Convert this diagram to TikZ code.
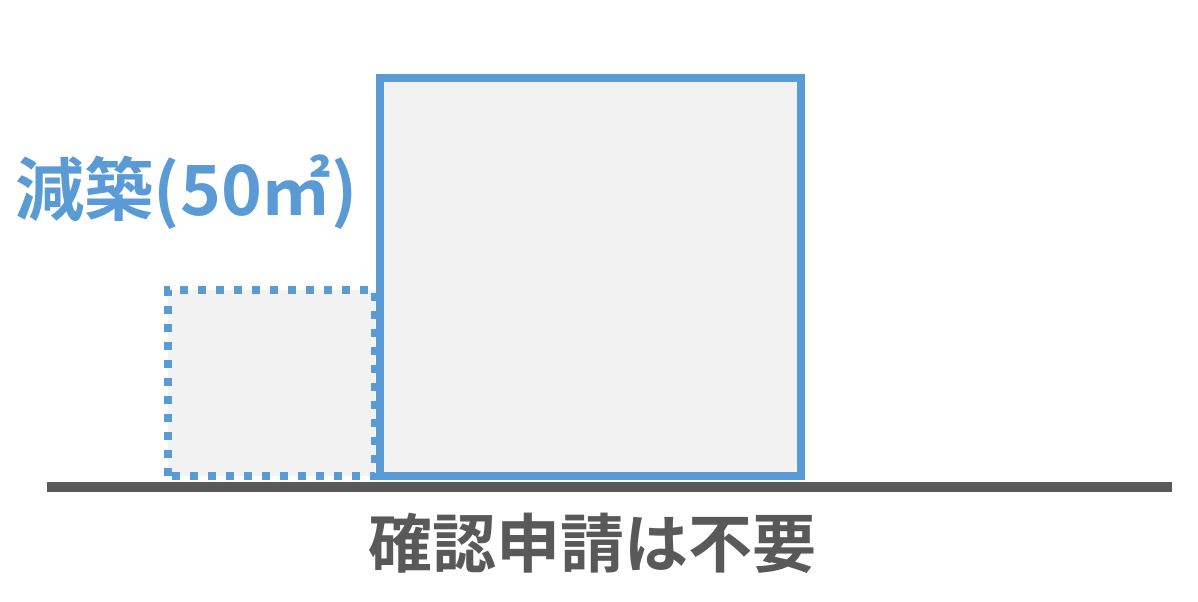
\documentclass[tikz,border=0pt]{standalone}
\usepackage{fontspec}
\newfontfamily\cjk{Noto Sans CJK JP}[BoldFont={Noto Sans CJK JP Bold}]
\definecolor{boxblue}{HTML}{5B9BD5}
\definecolor{groundgray}{HTML}{595959}
\definecolor{boxfill}{HTML}{F2F2F2}
\begin{document}
\begin{tikzpicture}[x=0.75pt,y=-0.75pt,font=\cjk\bfseries]
\def\gy{487}
\def\bl{380}
\def\br{801}
\def\bt{78}
\def\bb{476}
\def\dl{168}
\def\dr{375}
\def\dt{290}

\useasboundingbox (0,0) rectangle (1198,602);

% removed part (dotted)
\fill[boxfill] (\dl,\dt) rectangle (\dr,\bb);
\draw[boxblue,line width=6pt,dash pattern=on 6pt off 7.5pt] (\dl,\bb) -- (\dl,\dt) -- (\dr,\dt) -- (\dr,\bb) -- cycle;

% remaining building
\fill[boxfill] (\bl,\bt) rectangle (\br,\bb);
\draw[boxblue,line width=6pt] (\bl,\bt) rectangle (\br,\bb);

% ground
\draw[groundgray,line width=7.5pt] (47,\gy) -- (1172,\gy);

\node[boxblue,anchor=base west,inner sep=0pt,font=\cjk\bfseries\fontsize{52pt}{60pt}\selectfont] (lbl) at (15,216) {減築(50㎡)};
\node[groundgray,inner sep=0pt,font=\cjk\bfseries\fontsize{48pt}{56pt}\selectfont] (cap) at (592,543) {確認申請は不要};
\end{tikzpicture}
\end{document}
